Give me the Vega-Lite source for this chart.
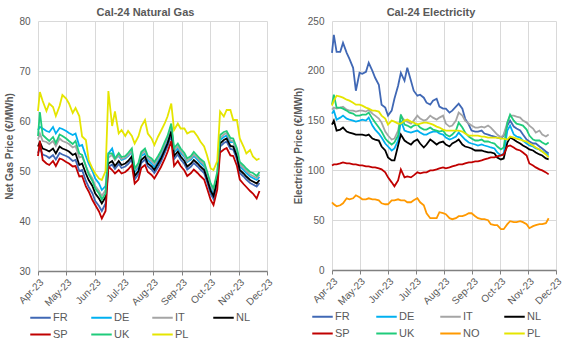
{
  "$schema": "https://vega.github.io/schema/vega-lite/v6.json",
  "background": "white",
  "padding": {"left": 4, "top": 7, "right": 0, "bottom": 0},
  "spacing": 18,
  "config": {
    "view": {"stroke": null},
    "font": "Liberation Sans",
    "title": {"fontSize": 11, "fontWeight": "bold", "color": "#595959", "offset": -2, "frame": "group"},
    "axis": {"labelColor": "#595959", "labelFontSize": 10, "titleColor": "#595959", "titleFontSize": 10, "titleFontWeight": "bold", "gridColor": "#D9D9D9", "gridWidth": 1},
    "legend": {"title": null, "orient": "none", "direction": "horizontal", "columns": 4, "symbolType": "stroke", "symbolSize": 420, "symbolStrokeWidth": 2, "labelFontSize": 11, "labelColor": "#595959", "rowPadding": -7, "gridAlign": "all", "labelOffset": 1, "padding": 0}
  },
  "datasets": {
    "gas": [
      {"d":"2023-04-01","FR":53.6,"DE":58.2,"IT":56.3,"NL":54.9,"SP":53.0,"UK":57.0,"PL":62.0},
      {"d":"2023-04-03","FR":54.5,"DE":58.8,"IT":57.5,"NL":55.8,"SP":56.0,"UK":61.8,"PL":65.8},
      {"d":"2023-04-06","FR":53.3,"DE":58.5,"IT":56.0,"NL":54.5,"SP":52.2,"UK":57.2,"PL":64.0},
      {"d":"2023-04-10","FR":53.0,"DE":58.0,"IT":55.8,"NL":54.2,"SP":51.5,"UK":56.5,"PL":62.0},
      {"d":"2023-04-13","FR":52.6,"DE":57.8,"IT":55.4,"NL":53.9,"SP":51.2,"UK":56.0,"PL":63.5},
      {"d":"2023-04-17","FR":53.2,"DE":58.8,"IT":56.0,"NL":54.5,"SP":52.0,"UK":56.8,"PL":62.8},
      {"d":"2023-04-20","FR":52.3,"DE":57.5,"IT":55.0,"NL":53.5,"SP":51.0,"UK":55.6,"PL":61.0},
      {"d":"2023-04-24","FR":53.6,"DE":58.6,"IT":56.5,"NL":54.9,"SP":52.5,"UK":57.3,"PL":63.0},
      {"d":"2023-04-27","FR":53.3,"DE":58.4,"IT":56.0,"NL":54.5,"SP":52.3,"UK":57.0,"PL":65.2},
      {"d":"2023-05-01","FR":53.0,"DE":58.0,"IT":55.7,"NL":54.2,"SP":51.8,"UK":56.5,"PL":64.5},
      {"d":"2023-05-04","FR":52.7,"DE":57.6,"IT":55.4,"NL":53.9,"SP":51.5,"UK":56.0,"PL":63.5},
      {"d":"2023-05-08","FR":52.0,"DE":57.2,"IT":54.7,"NL":53.2,"SP":50.9,"UK":55.4,"PL":61.6},
      {"d":"2023-05-11","FR":52.2,"DE":57.5,"IT":55.0,"NL":53.5,"SP":51.0,"UK":56.0,"PL":62.6},
      {"d":"2023-05-15","FR":50.0,"DE":55.0,"IT":52.7,"NL":51.2,"SP":48.9,"UK":53.5,"PL":61.0},
      {"d":"2023-05-18","FR":50.2,"DE":55.2,"IT":52.9,"NL":51.5,"SP":49.0,"UK":53.2,"PL":56.9},
      {"d":"2023-05-22","FR":48.0,"DE":53.0,"IT":51.0,"NL":49.5,"SP":46.9,"UK":51.0,"PL":56.2},
      {"d":"2023-05-25","FR":46.8,"DE":51.5,"IT":49.7,"NL":48.2,"SP":45.9,"UK":49.3,"PL":52.2},
      {"d":"2023-05-29","FR":45.5,"DE":50.0,"IT":48.5,"NL":47.0,"SP":44.2,"UK":48.0,"PL":50.5},
      {"d":"2023-06-01","FR":44.0,"DE":48.5,"IT":47.0,"NL":45.5,"SP":43.2,"UK":46.5,"PL":49.5},
      {"d":"2023-06-05","FR":43.0,"DE":47.5,"IT":46.0,"NL":44.5,"SP":41.9,"UK":45.5,"PL":48.5},
      {"d":"2023-06-08","FR":42.0,"DE":46.2,"IT":45.0,"NL":43.5,"SP":40.5,"UK":44.3,"PL":48.2},
      {"d":"2023-06-12","FR":43.5,"DE":47.0,"IT":46.2,"NL":44.8,"SP":42.0,"UK":45.5,"PL":50.0},
      {"d":"2023-06-15","FR":50.8,"DE":53.5,"IT":52.7,"NL":51.5,"SP":50.9,"UK":53.5,"PL":66.0},
      {"d":"2023-06-19","FR":51.3,"DE":54.5,"IT":53.2,"NL":52.0,"SP":50.2,"UK":53.5,"PL":59.0},
      {"d":"2023-06-22","FR":50.4,"DE":52.5,"IT":52.2,"NL":51.0,"SP":49.5,"UK":52.5,"PL":61.9},
      {"d":"2023-06-26","FR":51.4,"DE":53.0,"IT":53.2,"NL":52.0,"SP":50.2,"UK":53.6,"PL":57.5},
      {"d":"2023-06-29","FR":50.6,"DE":52.2,"IT":52.4,"NL":51.2,"SP":49.5,"UK":52.8,"PL":58.2},
      {"d":"2023-07-03","FR":50.9,"DE":52.5,"IT":52.7,"NL":51.5,"SP":49.8,"UK":53.0,"PL":57.0},
      {"d":"2023-07-06","FR":51.4,"DE":53.0,"IT":53.2,"NL":52.0,"SP":50.3,"UK":53.6,"PL":58.0},
      {"d":"2023-07-10","FR":52.3,"DE":53.8,"IT":54.0,"NL":52.9,"SP":51.2,"UK":54.5,"PL":57.0},
      {"d":"2023-07-13","FR":48.3,"DE":49.8,"IT":50.2,"NL":49.0,"SP":47.5,"UK":50.5,"PL":55.5},
      {"d":"2023-07-17","FR":49.4,"DE":50.8,"IT":51.2,"NL":50.0,"SP":48.3,"UK":51.6,"PL":56.9},
      {"d":"2023-07-20","FR":51.6,"DE":53.0,"IT":53.4,"NL":52.2,"SP":50.6,"UK":53.8,"PL":58.9},
      {"d":"2023-07-24","FR":52.3,"DE":53.5,"IT":54.0,"NL":52.9,"SP":51.2,"UK":54.5,"PL":60.2},
      {"d":"2023-07-27","FR":50.9,"DE":52.2,"IT":52.6,"NL":51.5,"SP":49.8,"UK":53.0,"PL":57.5},
      {"d":"2023-07-31","FR":50.3,"DE":51.5,"IT":52.0,"NL":50.9,"SP":49.2,"UK":52.5,"PL":56.5},
      {"d":"2023-08-03","FR":49.6,"DE":50.8,"IT":51.3,"NL":50.2,"SP":48.5,"UK":51.8,"PL":55.2},
      {"d":"2023-08-07","FR":50.8,"DE":52.0,"IT":52.6,"NL":51.5,"SP":49.8,"UK":53.0,"PL":56.9},
      {"d":"2023-08-10","FR":51.9,"DE":53.2,"IT":53.6,"NL":52.5,"SP":50.8,"UK":54.0,"PL":58.0},
      {"d":"2023-08-14","FR":53.6,"DE":54.8,"IT":55.3,"NL":54.2,"SP":52.4,"UK":55.8,"PL":59.5},
      {"d":"2023-08-17","FR":54.9,"DE":56.0,"IT":56.6,"NL":55.5,"SP":53.8,"UK":57.0,"PL":60.9},
      {"d":"2023-08-21","FR":57.2,"DE":58.8,"IT":59.0,"NL":57.9,"SP":56.0,"UK":59.5,"PL":63.5},
      {"d":"2023-08-24","FR":52.4,"DE":53.8,"IT":54.1,"NL":53.0,"SP":51.0,"UK":54.6,"PL":58.2},
      {"d":"2023-08-28","FR":53.3,"DE":54.5,"IT":55.0,"NL":53.9,"SP":52.0,"UK":55.5,"PL":59.5},
      {"d":"2023-08-31","FR":52.3,"DE":53.6,"IT":54.0,"NL":52.9,"SP":51.0,"UK":54.5,"PL":58.5},
      {"d":"2023-09-04","FR":51.4,"DE":52.8,"IT":53.1,"NL":52.0,"SP":50.1,"UK":53.6,"PL":58.5},
      {"d":"2023-09-07","FR":50.3,"DE":51.8,"IT":52.0,"NL":50.9,"SP":49.0,"UK":52.5,"PL":57.5},
      {"d":"2023-09-11","FR":50.9,"DE":52.3,"IT":52.6,"NL":51.5,"SP":49.6,"UK":53.0,"PL":57.9},
      {"d":"2023-09-14","FR":51.6,"DE":53.0,"IT":53.3,"NL":52.2,"SP":50.3,"UK":53.8,"PL":57.9},
      {"d":"2023-09-18","FR":50.9,"DE":52.2,"IT":52.6,"NL":51.5,"SP":49.6,"UK":53.0,"PL":56.9},
      {"d":"2023-09-21","FR":50.3,"DE":51.6,"IT":52.0,"NL":50.9,"SP":49.0,"UK":52.4,"PL":55.9},
      {"d":"2023-09-25","FR":49.6,"DE":50.9,"IT":51.3,"NL":50.2,"SP":48.3,"UK":51.8,"PL":54.9},
      {"d":"2023-09-28","FR":47.9,"DE":49.2,"IT":49.6,"NL":48.5,"SP":46.6,"UK":50.0,"PL":53.2},
      {"d":"2023-10-02","FR":45.4,"DE":46.6,"IT":47.1,"NL":46.0,"SP":44.2,"UK":47.5,"PL":50.5},
      {"d":"2023-10-05","FR":44.4,"DE":45.6,"IT":46.1,"NL":45.0,"SP":43.2,"UK":46.5,"PL":50.2},
      {"d":"2023-10-09","FR":47.6,"DE":48.8,"IT":49.3,"NL":48.2,"SP":46.3,"UK":49.8,"PL":52.0},
      {"d":"2023-10-12","FR":54.9,"DE":56.2,"IT":56.6,"NL":55.5,"SP":53.7,"UK":57.2,"PL":61.9},
      {"d":"2023-10-16","FR":55.6,"DE":56.8,"IT":57.3,"NL":56.2,"SP":54.3,"UK":57.8,"PL":60.9},
      {"d":"2023-10-19","FR":55.9,"DE":57.1,"IT":57.6,"NL":56.5,"SP":54.6,"UK":58.0,"PL":62.2},
      {"d":"2023-10-23","FR":54.4,"DE":55.8,"IT":56.1,"NL":55.0,"SP":53.1,"UK":56.6,"PL":62.2},
      {"d":"2023-10-26","FR":54.3,"DE":56.0,"IT":56.0,"NL":54.9,"SP":53.0,"UK":56.5,"PL":60.2},
      {"d":"2023-10-30","FR":52.3,"DE":53.6,"IT":54.0,"NL":52.9,"SP":51.0,"UK":54.5,"PL":60.2},
      {"d":"2023-11-02","FR":49.6,"DE":50.9,"IT":51.3,"NL":50.2,"SP":48.3,"UK":51.8,"PL":56.5},
      {"d":"2023-11-06","FR":48.9,"DE":50.2,"IT":50.6,"NL":49.5,"SP":47.4,"UK":51.1,"PL":54.9},
      {"d":"2023-11-09","FR":48.3,"DE":49.6,"IT":50.0,"NL":48.9,"SP":46.8,"UK":50.5,"PL":53.5},
      {"d":"2023-11-13","FR":47.6,"DE":48.9,"IT":49.3,"NL":48.2,"SP":46.0,"UK":49.8,"PL":54.2},
      {"d":"2023-11-16","FR":47.3,"DE":48.6,"IT":49.0,"NL":47.9,"SP":45.5,"UK":49.6,"PL":52.9},
      {"d":"2023-11-20","FR":46.9,"DE":48.2,"IT":48.6,"NL":47.5,"SP":44.5,"UK":49.0,"PL":52.2},
      {"d":"2023-11-23","FR":47.6,"DE":48.8,"IT":49.3,"NL":48.2,"SP":46.0,"UK":49.8,"PL":52.5}
    ],
    "elec": [
      {"d":"2023-04-01","FR":218,"DE":157,"IT":161,"NL":146,"SP":105,"UK":166,"NO":68,"PL":165},
      {"d":"2023-04-03","FR":236,"DE":160,"IT":163,"NL":150,"SP":106,"UK":176,"NO":66,"PL":170},
      {"d":"2023-04-06","FR":219,"DE":151,"IT":162,"NL":140,"SP":106,"UK":163,"NO":64,"PL":175},
      {"d":"2023-04-10","FR":219,"DE":153,"IT":163,"NL":141,"SP":107,"UK":163,"NO":65,"PL":174},
      {"d":"2023-04-13","FR":228,"DE":155,"IT":164,"NL":143,"SP":108,"UK":162,"NO":67,"PL":173},
      {"d":"2023-04-17","FR":218,"DE":152,"IT":161,"NL":139,"SP":107,"UK":160,"NO":72,"PL":171},
      {"d":"2023-04-20","FR":212,"DE":151,"IT":160,"NL":138,"SP":107,"UK":158,"NO":71,"PL":170},
      {"d":"2023-04-24","FR":203,"DE":150,"IT":160,"NL":137,"SP":106,"UK":157,"NO":72,"PL":168},
      {"d":"2023-04-27","FR":180,"DE":149,"IT":159,"NL":136,"SP":106,"UK":155,"NO":75,"PL":166},
      {"d":"2023-05-01","FR":198,"DE":150,"IT":160,"NL":136,"SP":105,"UK":155,"NO":73,"PL":166},
      {"d":"2023-05-04","FR":197,"DE":151,"IT":160,"NL":136,"SP":105,"UK":156,"NO":71,"PL":165},
      {"d":"2023-05-08","FR":199,"DE":150,"IT":159,"NL":135,"SP":104,"UK":156,"NO":71,"PL":163},
      {"d":"2023-05-11","FR":208,"DE":153,"IT":161,"NL":136,"SP":104,"UK":158,"NO":72,"PL":162},
      {"d":"2023-05-15","FR":200,"DE":145,"IT":157,"NL":132,"SP":103,"UK":152,"NO":71,"PL":160},
      {"d":"2023-05-18","FR":193,"DE":141,"IT":155,"NL":131,"SP":103,"UK":148,"NO":71,"PL":160},
      {"d":"2023-05-22","FR":186,"DE":137,"IT":152,"NL":130,"SP":102,"UK":143,"NO":70,"PL":159},
      {"d":"2023-05-25","FR":166,"DE":133,"IT":148,"NL":124,"SP":101,"UK":139,"NO":67,"PL":155},
      {"d":"2023-05-29","FR":163,"DE":127,"IT":139,"NL":120,"SP":98,"UK":132,"NO":66,"PL":152},
      {"d":"2023-06-01","FR":155,"DE":124,"IT":135,"NL":113,"SP":93,"UK":129,"NO":66,"PL":146},
      {"d":"2023-06-05","FR":160,"DE":120,"IT":131,"NL":110,"SP":88,"UK":126,"NO":70,"PL":150},
      {"d":"2023-06-08","FR":172,"DE":122,"IT":132,"NL":110,"SP":84,"UK":128,"NO":70,"PL":149},
      {"d":"2023-06-12","FR":185,"DE":130,"IT":140,"NL":125,"SP":90,"UK":135,"NO":71,"PL":147},
      {"d":"2023-06-15","FR":198,"DE":150,"IT":155,"NL":136,"SP":101,"UK":156,"NO":70,"PL":147},
      {"d":"2023-06-19","FR":190,"DE":140,"IT":150,"NL":130,"SP":93,"UK":146,"NO":70,"PL":150},
      {"d":"2023-06-22","FR":203,"DE":139,"IT":149,"NL":128,"SP":94,"UK":145,"NO":68,"PL":151},
      {"d":"2023-06-26","FR":190,"DE":138,"IT":147,"NL":126,"SP":93,"UK":143,"NO":68,"PL":149},
      {"d":"2023-06-29","FR":180,"DE":139,"IT":150,"NL":129,"SP":95,"UK":145,"NO":70,"PL":148},
      {"d":"2023-07-03","FR":175,"DE":140,"IT":155,"NL":131,"SP":98,"UK":146,"NO":72,"PL":146},
      {"d":"2023-07-06","FR":176,"DE":138,"IT":152,"NL":127,"SP":97,"UK":143,"NO":68,"PL":147},
      {"d":"2023-07-10","FR":173,"DE":136,"IT":150,"NL":123,"SP":98,"UK":141,"NO":65,"PL":148},
      {"d":"2023-07-13","FR":168,"DE":136,"IT":151,"NL":126,"SP":98,"UK":141,"NO":57,"PL":148},
      {"d":"2023-07-17","FR":166,"DE":138,"IT":155,"NL":131,"SP":100,"UK":143,"NO":52,"PL":147},
      {"d":"2023-07-20","FR":170,"DE":139,"IT":153,"NL":129,"SP":100,"UK":141,"NO":52,"PL":146},
      {"d":"2023-07-24","FR":172,"DE":139,"IT":151,"NL":126,"SP":101,"UK":140,"NO":52,"PL":144},
      {"d":"2023-07-27","FR":164,"DE":137,"IT":153,"NL":128,"SP":102,"UK":139,"NO":58,"PL":143},
      {"d":"2023-07-31","FR":162,"DE":136,"IT":155,"NL":129,"SP":103,"UK":140,"NO":57,"PL":141},
      {"d":"2023-08-03","FR":162,"DE":133,"IT":147,"NL":126,"SP":102,"UK":136,"NO":56,"PL":140},
      {"d":"2023-08-07","FR":158,"DE":131,"IT":144,"NL":124,"SP":103,"UK":134,"NO":52,"PL":140},
      {"d":"2023-08-10","FR":160,"DE":132,"IT":145,"NL":127,"SP":104,"UK":136,"NO":51,"PL":140},
      {"d":"2023-08-14","FR":164,"DE":134,"IT":150,"NL":129,"SP":105,"UK":140,"NO":52,"PL":140},
      {"d":"2023-08-17","FR":167,"DE":138,"IT":158,"NL":131,"SP":106,"UK":148,"NO":54,"PL":140},
      {"d":"2023-08-21","FR":162,"DE":134,"IT":155,"NL":126,"SP":106,"UK":143,"NO":54,"PL":139},
      {"d":"2023-08-24","FR":152,"DE":131,"IT":150,"NL":124,"SP":107,"UK":138,"NO":55,"PL":137},
      {"d":"2023-08-28","FR":146,"DE":128,"IT":147,"NL":123,"SP":108,"UK":134,"NO":57,"PL":135},
      {"d":"2023-08-31","FR":140,"DE":127,"IT":145,"NL":122,"SP":108,"UK":132,"NO":57,"PL":135},
      {"d":"2023-09-04","FR":139,"DE":126,"IT":143,"NL":120,"SP":109,"UK":130,"NO":54,"PL":135},
      {"d":"2023-09-07","FR":139,"DE":125,"IT":143,"NL":120,"SP":109,"UK":130,"NO":52,"PL":135},
      {"d":"2023-09-11","FR":140,"DE":126,"IT":144,"NL":120,"SP":110,"UK":131,"NO":51,"PL":134},
      {"d":"2023-09-14","FR":137,"DE":125,"IT":143,"NL":119,"SP":111,"UK":129,"NO":51,"PL":134},
      {"d":"2023-09-18","FR":136,"DE":124,"IT":145,"NL":118,"SP":112,"UK":129,"NO":50,"PL":133},
      {"d":"2023-09-21","FR":135,"DE":123,"IT":143,"NL":118,"SP":113,"UK":128,"NO":46,"PL":133},
      {"d":"2023-09-25","FR":134,"DE":122,"IT":139,"NL":117,"SP":113,"UK":127,"NO":45,"PL":133},
      {"d":"2023-09-28","FR":133,"DE":118,"IT":136,"NL":113,"SP":114,"UK":124,"NO":45,"PL":133},
      {"d":"2023-10-02","FR":132,"DE":115,"IT":133,"NL":111,"SP":115,"UK":121,"NO":41,"PL":132},
      {"d":"2023-10-05","FR":135,"DE":117,"IT":136,"NL":112,"SP":116,"UK":123,"NO":41,"PL":132},
      {"d":"2023-10-09","FR":145,"DE":140,"IT":148,"NL":128,"SP":124,"UK":148,"NO":46,"PL":131},
      {"d":"2023-10-12","FR":150,"DE":145,"IT":155,"NL":133,"SP":125,"UK":156,"NO":49,"PL":134},
      {"d":"2023-10-16","FR":144,"DE":136,"IT":155,"NL":131,"SP":123,"UK":150,"NO":48,"PL":133},
      {"d":"2023-10-19","FR":142,"DE":134,"IT":154,"NL":129,"SP":121,"UK":147,"NO":48,"PL":132},
      {"d":"2023-10-23","FR":140,"DE":133,"IT":153,"NL":127,"SP":120,"UK":146,"NO":49,"PL":131},
      {"d":"2023-10-26","FR":136,"DE":130,"IT":150,"NL":125,"SP":118,"UK":145,"NO":48,"PL":130},
      {"d":"2023-10-30","FR":131,"DE":127,"IT":148,"NL":123,"SP":115,"UK":141,"NO":46,"PL":129},
      {"d":"2023-11-02","FR":129,"DE":125,"IT":145,"NL":121,"SP":107,"UK":135,"NO":42,"PL":127},
      {"d":"2023-11-06","FR":127,"DE":124,"IT":142,"NL":120,"SP":105,"UK":131,"NO":44,"PL":125},
      {"d":"2023-11-09","FR":127,"DE":122,"IT":138,"NL":118,"SP":103,"UK":130,"NO":45,"PL":123},
      {"d":"2023-11-13","FR":124,"DE":121,"IT":140,"NL":116,"SP":101,"UK":130,"NO":46,"PL":121},
      {"d":"2023-11-16","FR":122,"DE":119,"IT":136,"NL":115,"SP":100,"UK":128,"NO":46,"PL":119},
      {"d":"2023-11-20","FR":119,"DE":117,"IT":134,"NL":112,"SP":98,"UK":126,"NO":47,"PL":116},
      {"d":"2023-11-23","FR":117,"DE":115,"IT":136,"NL":111,"SP":96,"UK":128,"NO":52,"PL":113}
    ]
  },
  "resolve": {"scale": {"color": "independent", "x": "independent", "y": "independent"}},
  "hconcat": [
    {
      "width": 229,
      "height": 250,
      "title": {"text": "Cal-24 Natural Gas", "dx": -7},
      "data": {"name": "gas"},
      "transform": [{"fold": ["FR", "DE", "IT", "NL", "SP", "UK", "PL"], "as": ["series", "value"]}],
      "mark": {"type": "line", "strokeWidth": 1.8},
      "encoding": {
        "x": {
          "field": "d", "type": "temporal",
          "scale": {"type": "utc", "domain": [{"year": 2023, "month": 4, "date": 1, "utc": true}, {"year": 2023, "month": 12, "date": 1, "utc": true}]},
          "axis": {
            "title": null, "labelExpr": "utcFormat(datum.value, '%b-%y')", "labelAngle": -45, "labelAlign": "right", "labelBaseline": "top", "labelPadding": 2,
            "values": [
              {"year": 2023, "month": 4, "date": 1, "utc": true}, {"year": 2023, "month": 5, "date": 1, "utc": true},
              {"year": 2023, "month": 6, "date": 1, "utc": true}, {"year": 2023, "month": 7, "date": 1, "utc": true},
              {"year": 2023, "month": 8, "date": 1, "utc": true}, {"year": 2023, "month": 9, "date": 1, "utc": true},
              {"year": 2023, "month": 10, "date": 1, "utc": true}, {"year": 2023, "month": 11, "date": 1, "utc": true},
              {"year": 2023, "month": 12, "date": 1, "utc": true}
            ],
            "domainColor": "#808080", "domainWidth": 1.5, "tickColor": "#808080", "tickSize": 4, "labelFontSize": 10, "labelOverlap": false, "labelBound": false, "labelFlush": false
          }
        },
        "y": {
          "field": "value", "type": "quantitative",
          "scale": {"domain": [30, 80], "nice": false, "zero": false},
          "axis": {"title": "Net Gas Price (€/MWh)", "values": [30, 40, 50, 60, 70, 80], "domain": false, "ticks": false, "labelPadding": 8, "titlePadding": 4}
        },
        "color": {
          "field": "series", "type": "nominal",
          "scale": {"domain": ["FR", "DE", "IT", "NL", "SP", "UK", "PL"], "range": ["#4068B5", "#00B0F0", "#A5A5A5", "#000000", "#C00000", "#1FCB7B", "#E5E500"]},
          "legend": {"legendX": -9, "legendY": 285, "columnPadding": 18}
        }
      }
    },
    {
      "width": 224,
      "height": 249,
      "title": {"text": "Cal-24 Electricity", "dx": -13},
      "data": {"name": "elec"},
      "transform": [{"fold": ["FR", "DE", "IT", "NL", "SP", "UK", "NO", "PL"], "as": ["series", "value"]}],
      "mark": {"type": "line", "strokeWidth": 1.8},
      "encoding": {
        "x": {
          "field": "d", "type": "temporal",
          "scale": {"type": "utc", "domain": [{"year": 2023, "month": 4, "date": 1, "utc": true}, {"year": 2023, "month": 12, "date": 1, "utc": true}]},
          "axis": {
            "title": null, "labelExpr": "utcFormat(datum.value, '%b-%y')", "labelAngle": -45, "labelAlign": "right", "labelBaseline": "top", "labelPadding": 2,
            "values": [
              {"year": 2023, "month": 4, "date": 1, "utc": true}, {"year": 2023, "month": 5, "date": 1, "utc": true},
              {"year": 2023, "month": 6, "date": 1, "utc": true}, {"year": 2023, "month": 7, "date": 1, "utc": true},
              {"year": 2023, "month": 8, "date": 1, "utc": true}, {"year": 2023, "month": 9, "date": 1, "utc": true},
              {"year": 2023, "month": 10, "date": 1, "utc": true}, {"year": 2023, "month": 11, "date": 1, "utc": true},
              {"year": 2023, "month": 12, "date": 1, "utc": true}
            ],
            "domainColor": "#808080", "domainWidth": 1.5, "tickColor": "#808080", "tickSize": 4, "labelFontSize": 10, "labelOverlap": false, "labelBound": false, "labelFlush": false
          }
        },
        "y": {
          "field": "value", "type": "quantitative",
          "scale": {"domain": [0, 250], "nice": false},
          "axis": {"title": "Electricity Price (€/MWh)", "values": [0, 50, 100, 150, 200, 250], "domain": false, "ticks": false, "labelPadding": 8, "titlePadding": 4}
        },
        "color": {
          "field": "series", "type": "nominal",
          "scale": {"domain": ["FR", "DE", "IT", "NL", "SP", "UK", "NO", "PL"], "range": ["#4068B5", "#00B0F0", "#A5A5A5", "#000000", "#C00000", "#1FCB7B", "#FF9900", "#E5E500"]},
          "legend": {"legendX": -21, "legendY": 284, "columnPadding": 20}
        }
      }
    }
  ]
}
